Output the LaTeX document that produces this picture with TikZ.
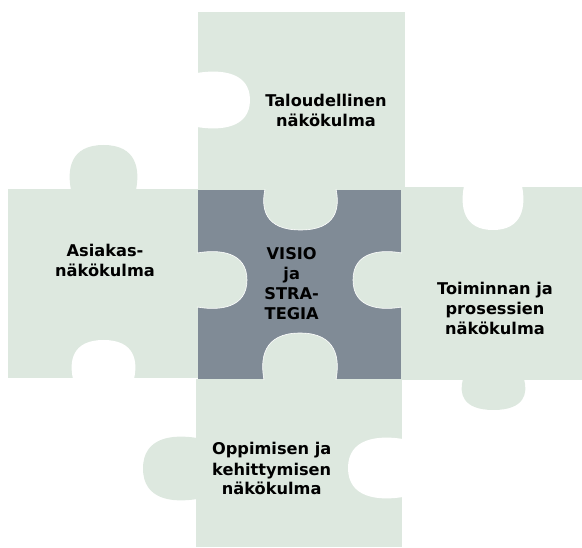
\documentclass[tikz,border=0pt]{standalone}
\usepackage{fontspec}
\setmainfont{DejaVu Sans}
\definecolor{pg}{RGB}{221,232,223}
\definecolor{cg}{RGB}{128,139,150}
\newcommand{\vtab}[5]{\path[#1] ({#2-#4/2+1},#3) .. controls ({#2-#4/2-3},{#3+0.45*(#5)}) and ({#2-#4/2},{#3+(#5)}) .. (#2,{#3+(#5)}) .. controls ({#2+#4/2},{#3+(#5)}) and ({#2+#4/2+3},{#3+0.45*(#5)}) .. ({#2+#4/2-1},#3);}
\newcommand{\htab}[5]{\path[#1] (#2,{#3-#4/2+1}) .. controls ({#2+0.45*(#5)},{#3-#4/2-3}) and ({#2+(#5)},{#3-#4/2}) .. ({#2+(#5)},#3) .. controls ({#2+(#5)},{#3+#4/2}) and ({#2+0.45*(#5)},{#3+#4/2+3}) .. (#2,{#3+#4/2-1});}
\tikzset{
  lbl/.style={anchor=base, align=center, font=\fontsize{16.2}{20}\selectfont\bfseries, text=black, inner sep=0pt},
  piece/.style={fill=pg},
  hole/.style={fill=white},
  ctab/.style={fill=pg, draw=white, line width=0.6pt}
}
\begin{document}
\begin{tikzpicture}[x=1pt,y=-1pt]
\useasboundingbox (0,0) rectangle (582,548);
% pieces
\fill[pg] (198,12) rectangle (405,190);
\fill[pg] (8,189) rectangle (198,378);
\fill[pg] (401,187) rectangle (582,380);
\fill[pg] (196,379) rectangle (402,547);
% protruding tabs
\vtab{piece}{103.5}{190}{67}{-45}
\vtab{piece}{493.5}{379}{63}{31}
\htab{piece}{197}{468.5}{63}{-54}
% cutouts
\htab{hole}{197}{100}{56}{53}
\vtab{hole}{103.5}{379}{63}{-39}
\vtab{hole}{493}{186}{60}{44}
\htab{hole}{403}{468}{60}{-55}
% centre piece
\fill[cg] (198,190) rectangle (401,379);
\vtab{ctab}{300.5}{189}{73}{41}
\htab{ctab}{197}{280}{56}{50}
\htab{ctab}{402}{280}{56}{-49}
\vtab{ctab}{300}{380}{74}{-47}
% labels (anchor = baseline of last line)
\node[lbl] (tal) at (326,126.7) {Taloudellinen\\näkökulma};
\node[lbl] (asi) at (105,276.7) {Asiakas-\\näkökulma};
\node[lbl] (vis) at (291.7,319.3) {VISIO\\ja\\STRA-\\TEGIA};
\node[lbl] (toi) at (495,334.3) {Toiminnan ja\\prosessien\\näkökulma};
\node[lbl] (opp) at (271.7,495) {Oppimisen ja\\kehittymisen\\näkökulma};
\end{tikzpicture}
\end{document}
